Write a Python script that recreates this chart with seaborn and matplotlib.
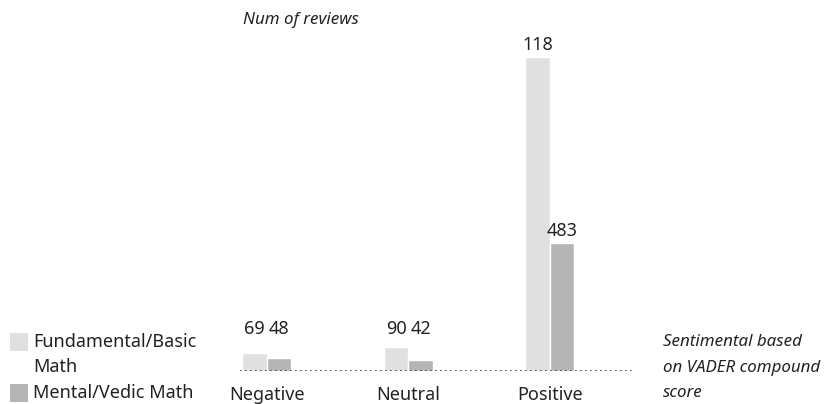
import matplotlib
matplotlib.use("Agg")
import matplotlib.pyplot as plt
import seaborn as sns
import pandas as pd
from matplotlib.patches import Rectangle

categories = ["Negative", "Neutral", "Positive"]
series_names = ["Fundamental/Basic Math", "Mental/Vedic Math"]
legend_labels = ["Fundamental/Basic\nMath", "Mental/Vedic Math"]
fundamental = [69, 90, 1180]
mental = [48, 42, 483]
fundamental_labels = ["69", "90", "118"]
mental_labels = ["48", "42", "483"]
colors = ["#e0e0e0", "#b5b5b5"]

sns.set_theme(style="white")
plt.rcParams["font.family"] = ["Noto Sans", "DejaVu Sans"]

df = pd.DataFrame({
    "category": categories * 2,
    "series": [series_names[0]] * 3 + [series_names[1]] * 3,
    "value": fundamental + mental,
    "label": fundamental_labels + mental_labels,
})

W, H = 828, 404
fig = plt.figure(figsize=(W / 100, H / 100), dpi=100)
ax_left, ax_right, ax_base, ax_top = 240, 632, 371, 40
ax = fig.add_axes([ax_left / W, (H - ax_base) / H, (ax_right - ax_left) / W, (ax_base - ax_top) / H])

sns.barplot(data=df, x="category", y="value", hue="series", order=categories,
            hue_order=series_names, palette=colors, width=0.346, gap=0,
            dodge=True, legend=False, ax=ax, saturation=1)

ax.set_xlim(-0.19, 2.58)
ax.set_ylim(0, (ax_base - ax_top) / 0.266)
ax.axhline(0, color="#333333", linestyle=(0, (1, 2)), linewidth=1.2, zorder=3)

for s in ax.spines.values():
    s.set_visible(False)
ax.set_yticks([])
ax.set_xlabel("")
ax.set_ylabel("")
fs = 13
fsi = 12.2
ax.tick_params(axis="x", length=0, pad=11, labelsize=fs, labelcolor="#222222")

# value labels
bw = 0.346 / 2
for i, cat in enumerate(categories):
    for j, (vals, labs) in enumerate([(fundamental, fundamental_labels), (mental, mental_labels)]):
        x = i - bw / 2 + j * bw
        y = max(vals[i], 112)
        ax.annotate(labs[i], xy=(x, y), xytext=(0, 2), textcoords="offset points",
                    ha="center", va="bottom", fontsize=fs, color="#222222")

fig.text(243 / W, 1 - 20 / H, "Num of reviews", style="italic", fontsize=fsi,
         ha="left", va="center", color="#222222")

right_lines = ["Sentimental based", "on VADER compound", "score"]
for k, line in enumerate(right_lines):
    fig.text(663 / W, 1 - (342 + 25.5 * k) / H, line, style="italic", fontsize=fsi,
             ha="left", va="center", color="#222222")

# legend
leg_rows = [(0, legend_labels[0].split("\n")), (1, legend_labels[1].split("\n"))]
row_y = [342, 393]
for idx, (ci, lines) in enumerate(leg_rows):
    y0 = row_y[idx]
    fig.patches.append(Rectangle((10 / W, 1 - (y0 + 9) / H), 18 / W, 18 / H,
                                 transform=fig.transFigure, facecolor=colors[ci],
                                 edgecolor="none"))
    for k, line in enumerate(lines):
        fig.text(33 / W, 1 - (y0 + 25.5 * k) / H, line, fontsize=fs,
                 ha="left", va="center", color="#222222")

fig.savefig("out.png", dpi=100)
